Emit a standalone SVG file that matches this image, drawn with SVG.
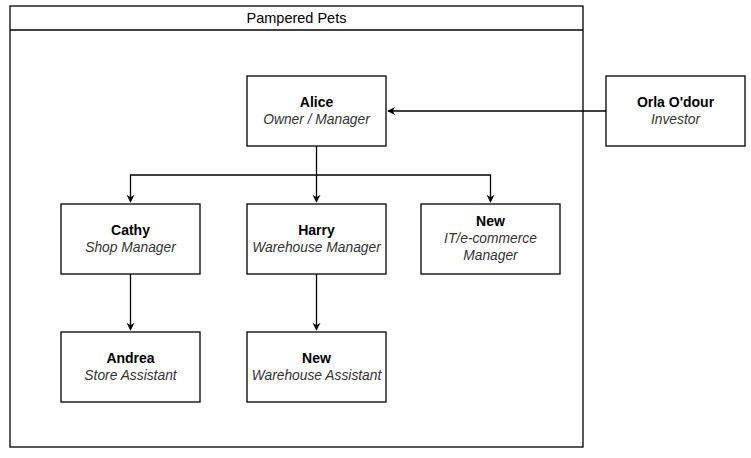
<svg xmlns="http://www.w3.org/2000/svg" width="751" height="458" viewBox="0 0 751 458">
<style>
.box{fill:#fff;stroke:#000;stroke-width:1.3}
.n{font-family:"Liberation Sans",Arial,sans-serif;font-size:14px;font-weight:bold;fill:#000;text-anchor:middle}
.r{font-family:"Liberation Sans",Arial,sans-serif;font-size:13.8px;font-style:italic;fill:#333;text-anchor:middle}
.t{font-family:"Liberation Sans",Arial,sans-serif;font-size:14.5px;fill:#000;text-anchor:middle}
.c{fill:none;stroke:#000;stroke-width:1.3}
</style>
<defs>
<marker id="a" viewBox="0 0 10 10" refX="9" refY="5" markerWidth="8" markerHeight="8" markerUnits="userSpaceOnUse" orient="auto">
<path d="M0,0 L10,5 L0,10 L3,5 Z" fill="#000"/>
</marker>
</defs>
<rect width="751" height="458" fill="#fff"/>
<g id="container">
<rect class="box" x="10" y="6" width="573" height="441"/>
<line class="c" x1="10" y1="30" x2="583" y2="30"/>
<text class="t" x="296.5" y="23">Pampered Pets</text>
</g>
<g id="connectors">
<path class="c" d="M606,111 H388" marker-end="url(#a)"/>
<path class="c" d="M316.5,146 V202" marker-end="url(#a)"/>
<path class="c" d="M316.5,175 H130.5 V202" marker-end="url(#a)"/>
<path class="c" d="M316.5,175 H490.5 V202" marker-end="url(#a)"/>
<path class="c" d="M130.5,274 V330" marker-end="url(#a)"/>
<path class="c" d="M316.5,274 V330" marker-end="url(#a)"/>
</g>
<g id="alice">
<rect class="box" x="247" y="76" width="139" height="70"/>
<text class="n" x="316.5" y="107">Alice</text>
<text class="r" x="316.5" y="124">Owner / Manager</text>
</g>
<g id="orla">
<rect class="box" x="606" y="76" width="139" height="70"/>
<text class="n" x="675.5" y="107">Orla O'dour</text>
<text class="r" x="675.5" y="124">Investor</text>
</g>
<g id="cathy">
<rect class="box" x="61" y="204" width="139" height="70"/>
<text class="n" x="130.5" y="235">Cathy</text>
<text class="r" x="130.5" y="252">Shop Manager</text>
</g>
<g id="harry">
<rect class="box" x="247" y="204" width="139" height="70"/>
<text class="n" x="316.5" y="235">Harry</text>
<text class="r" x="316.5" y="252">Warehouse Manager</text>
</g>
<g id="newit">
<rect class="box" x="421" y="204" width="139" height="70"/>
<text class="n" x="490.5" y="226">New</text>
<text class="r" x="490.5" y="243">IT/e-commerce</text>
<text class="r" x="490.5" y="260">Manager</text>
</g>
<g id="andrea">
<rect class="box" x="61" y="332" width="139" height="70"/>
<text class="n" x="130.5" y="363">Andrea</text>
<text class="r" x="130.5" y="380">Store Assistant</text>
</g>
<g id="newwa">
<rect class="box" x="247" y="332" width="139" height="70"/>
<text class="n" x="316.5" y="363">New</text>
<text class="r" x="316.5" y="380">Warehouse Assistant</text>
</g>
</svg>
